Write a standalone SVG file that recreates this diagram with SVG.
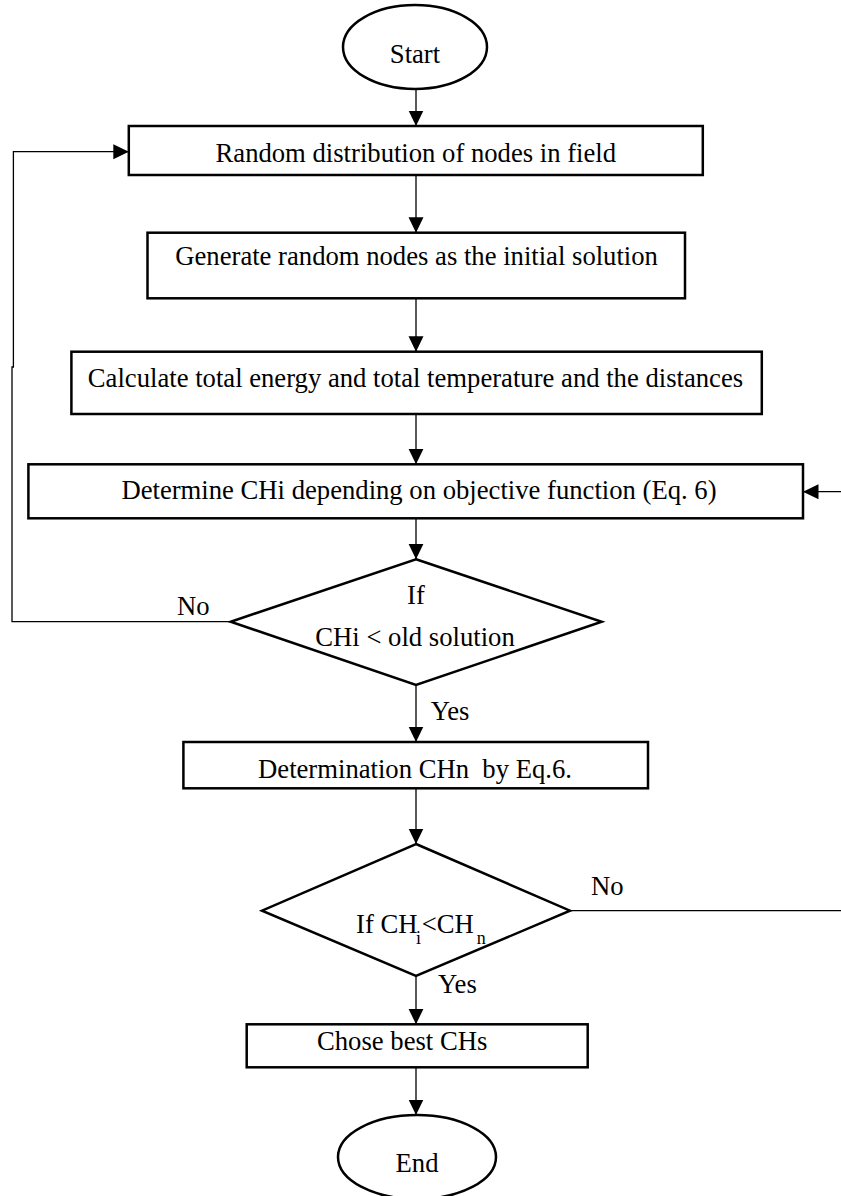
<svg xmlns="http://www.w3.org/2000/svg" width="841" height="1196" viewBox="0 0 841 1196">
<style>
.box{fill:#fff;stroke:#000;stroke-width:2.5}
.t{font-family:"Liberation Serif","Times New Roman",serif;font-size:26.67px;fill:#000}
.m{text-anchor:middle}
.sub{font-size:18px}
.c{fill:none;stroke:#000;stroke-width:1.3}
</style>
<defs>
<marker id="ah" markerUnits="userSpaceOnUse" markerWidth="16" markerHeight="16" viewBox="0 0 16 16" refX="15.5" refY="8" orient="auto">
<path d="M0,0.5 L15.5,8 L0,15.5 Z" fill="#000"/>
</marker>
</defs>
<rect width="841" height="1196" fill="#fff"/>
<g id="connectors">
<line class="c" x1="416" y1="89" x2="416" y2="126" marker-end="url(#ah)"/>
<line class="c" x1="416" y1="175" x2="416" y2="232.7" marker-end="url(#ah)"/>
<line class="c" x1="416" y1="298.3" x2="416" y2="351.7" marker-end="url(#ah)"/>
<line class="c" x1="416" y1="414" x2="416" y2="464.3" marker-end="url(#ah)"/>
<line class="c" x1="416" y1="518.3" x2="416" y2="559.3" marker-end="url(#ah)"/>
<line class="c" x1="416" y1="685" x2="416" y2="742" marker-end="url(#ah)"/>
<line class="c" x1="416" y1="788.3" x2="416" y2="844" marker-end="url(#ah)"/>
<line class="c" x1="416" y1="976" x2="416" y2="1024.3" marker-end="url(#ah)"/>
<line class="c" x1="416" y1="1067.3" x2="416" y2="1115" marker-end="url(#ah)"/>
<path class="c" d="M230.7,621.7 H12 V367 H13.4 V151.7 H128.8" marker-end="url(#ah)"/>
<line class="c" x1="570" y1="910.7" x2="841" y2="910.7"/>
<line class="c" x1="841" y1="491.7" x2="803" y2="491.7" marker-end="url(#ah)"/>
<text class="t" x="177" y="615">No</text>
<text class="t" x="430.7" y="720">Yes</text>
<text class="t" x="591" y="895">No</text>
<text class="t" x="438" y="992.7">Yes</text>
</g>
<g id="start">
<ellipse class="box" cx="415" cy="47" rx="72" ry="42"/>
<text class="t m" x="415" y="62.7">Start</text>
</g>
<g id="box1">
<rect class="box" x="128.8" y="126" width="574" height="49"/>
<text class="t m" x="415.8" y="161.7">Random distribution of nodes in field</text>
</g>
<g id="box2">
<rect class="box" x="147.5" y="232.7" width="537.5" height="65.6"/>
<text class="t m" x="416.6" y="265">Generate random nodes as the initial solution</text>
</g>
<g id="box3">
<rect class="box" x="71.4" y="351.7" width="690.4" height="62.3"/>
<text class="t m" x="415.5" y="387">Calculate total energy and total temperature and the distances</text>
</g>
<g id="box4">
<rect class="box" x="28.4" y="464.3" width="774.6" height="54"/>
<text class="t m" x="419" y="499">Determine CHi depending on objective function (Eq. 6)</text>
</g>
<g id="decision1">
<polygon class="box" points="416,559.3 601.7,621.7 416,685 230.7,621.7"/>
<text class="t m" x="416" y="604">If</text>
<text class="t m" x="415" y="646">CHi &lt; old solution</text>
</g>
<g id="box5">
<rect class="box" x="183.4" y="742" width="464.6" height="46.3"/>
<text class="t m" x="415" y="778">Determination CHn&#160; by Eq.6.</text>
</g>
<g id="decision2">
<polygon class="box" points="416,844 570,910.7 416,976 262,910.7"/>
<text class="t"><tspan x="356" y="933">If CH</tspan><tspan class="sub" x="416" y="944">i</tspan><tspan x="421.7" y="933">&lt;CH</tspan><tspan class="sub" x="476.7" y="944">n</tspan></text>
</g>
<g id="box6">
<rect class="box" x="246.7" y="1024.3" width="341" height="43"/>
<text class="t" x="317" y="1050">Chose best CHs</text>
</g>
<g id="end">
<ellipse class="box" cx="417" cy="1157" rx="79" ry="42"/>
<text class="t m" x="417" y="1172.3">End</text>
</g>
</svg>
